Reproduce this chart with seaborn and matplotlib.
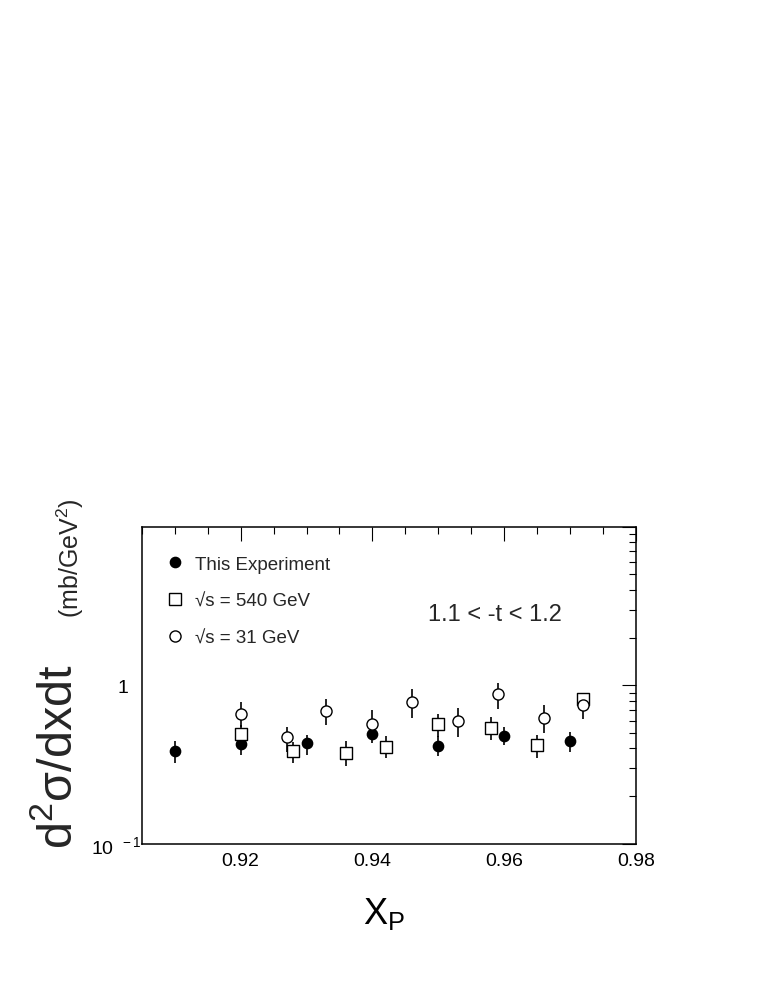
import numpy as np
import pandas as pd
import matplotlib
matplotlib.use("Agg")
import matplotlib.pyplot as plt
import seaborn as sns
from matplotlib.ticker import FixedLocator, MultipleLocator, NullFormatter
from matplotlib.lines import Line2D
from matplotlib.transforms import ScaledTranslation

# ---------------- data ----------------
exp_x = [0.910, 0.920, 0.930, 0.940, 0.950, 0.960, 0.970]
exp_y = [0.383, 0.427, 0.430, 0.492, 0.415, 0.480, 0.447]
exp_lo = [0.323, 0.365, 0.363, 0.430, 0.356, 0.419, 0.381]
exp_hi = [0.443, 0.500, 0.487, 0.560, 0.480, 0.547, 0.509]

s540_x = [0.920, 0.928, 0.936, 0.942, 0.950, 0.958, 0.965, 0.972]
s540_y = [0.492, 0.386, 0.377, 0.411, 0.568, 0.542, 0.419, 0.825]
s540_lo = [0.430, 0.326, 0.308, 0.346, 0.470, 0.453, 0.346, 0.750]
s540_hi = [0.560, 0.440, 0.443, 0.480, 0.664, 0.632, 0.485, 0.900]

s31_x = [0.920, 0.927, 0.933, 0.940, 0.946, 0.953, 0.959, 0.966, 0.972]
s31_y = [0.657, 0.469, 0.689, 0.568, 0.785, 0.597, 0.878, 0.626, 0.748]
s31_lo = [0.550, 0.378, 0.560, 0.470, 0.626, 0.469, 0.713, 0.497, 0.617]
s31_hi = [0.785, 0.550, 0.816, 0.696, 0.944, 0.724, 1.030, 0.751, 0.900]

labels = ["This Experiment", "\u221as = 540 GeV", "\u221as = 31 GeV"]
x_ticks = [0.92, 0.94, 0.96, 0.98]
x_tick_labels = ["0.92", "0.94", "0.96", "0.98"]
y_ticks = [0.1, 1, 10]
y_tick_labels = [r"$\mathregular{10^{\ \ -1}}$", "1", ""]
range_text = "1.1 < -t < 1.2"

# ---------------- style ----------------
sns.set_theme(style="white")
plt.rcParams["font.family"] = ["Liberation Sans", "DejaVu Sans"]
plt.rcParams["mathtext.fontset"] = "custom"
plt.rcParams["mathtext.rm"] = "Liberation Sans"
plt.rcParams["mathtext.it"] = "Liberation Sans:italic"
plt.rcParams["mathtext.sf"] = "Liberation Sans"

fig = plt.figure(figsize=(7.63, 9.87), dpi=100)
ax = fig.add_axes([0.1858, 0.1439, 0.6478, 0.3215])

series = [
    (exp_x, exp_y, exp_lo, exp_hi, "o", "black", 55),
    (s540_x, s540_y, s540_lo, s540_hi, "s", "white", 64),
    (s31_x, s31_y, s31_lo, s31_hi, "o", "white", 64),
]
for xs, ys, lo, hi, mk, fc, sz in series:
    ys_a = np.asarray(ys)
    yerr = [ys_a - np.asarray(lo), np.asarray(hi) - ys_a]
    ax.errorbar(xs, ys, yerr=yerr, fmt="none", ecolor="black",
                elinewidth=1.2, capsize=0, zorder=2)
    df = pd.DataFrame({"x": xs, "y": ys})
    sns.scatterplot(data=df, x="x", y="y", marker=mk, s=sz, color=fc,
                    edgecolor="black", linewidth=1.0, ax=ax, zorder=3,
                    legend=False)

ax.set_yscale("log")
ax.set_xlim(0.905, 0.98)
ax.set_ylim(0.1, 10)

ax.xaxis.set_major_locator(FixedLocator(x_ticks))
ax.set_xticklabels(x_tick_labels)
ax.xaxis.set_minor_locator(MultipleLocator(0.005))
ax.yaxis.set_major_locator(FixedLocator(y_ticks))
ax.set_yticklabels(y_tick_labels)
ax.yaxis.set_minor_locator(FixedLocator([m * d for d in (0.1, 1) for m in range(2, 10)]))
ax.yaxis.set_minor_formatter(NullFormatter())

ax.tick_params(which="both", direction="in", top=True, right=True,
               color="black", width=0.8, labelsize=14, labelcolor="black")
ax.tick_params(which="major", length=10)
ax.tick_params(which="minor", length=5)
ax.tick_params(axis="x", pad=6)
ax.tick_params(axis="y", pad=10)
for sp in ax.spines.values():
    sp.set_color("black")
    sp.set_linewidth(1.1)

# ROOT-style placement of the 10^-1 label, closer to the axis
lab0 = ax.get_yticklabels()[0]
lab0.set_transform(lab0.get_transform() + ScaledTranslation(0.14, 0, fig.dpi_scale_trans))

ax.set_xlabel(r"$\mathregular{X_P}$", fontsize=26, color="black")
ax.xaxis.set_label_coords(0.49, -0.16)
ax.set_ylabel("")

fig.text(72 / 763, 1 - 849 / 987, r"$\mathregular{d^{2}\sigma/dxdt}$", fontsize=35,
         rotation=90, rotation_mode="anchor", ha="left", va="baseline")
fig.text(79 / 763, 1 - 618 / 987, r"(mb/GeV$^{2}$)", fontsize=18,
         rotation=90, rotation_mode="anchor", ha="left", va="baseline")

ax.text(0.579, 0.725, range_text, transform=ax.transAxes, fontsize=17,
        ha="left", va="center")

handles = [
    Line2D([], [], linestyle="none", marker="o", markersize=7.4, markerfacecolor="black",
           markeredgecolor="black"),
    Line2D([], [], linestyle="none", marker="s", markersize=8, markerfacecolor="white",
           markeredgecolor="black", markeredgewidth=1.0),
    Line2D([], [], linestyle="none", marker="o", markersize=8, markerfacecolor="white",
           markeredgecolor="black", markeredgewidth=1.0),
]
ax.legend(handles, labels, loc="upper left", bbox_to_anchor=(0.049, 0.908),
          frameon=False, fontsize=13.5, handlelength=1.0, handletextpad=0.55,
          labelspacing=1.05, borderaxespad=0, borderpad=0)

fig.savefig("out.png", dpi=100)
